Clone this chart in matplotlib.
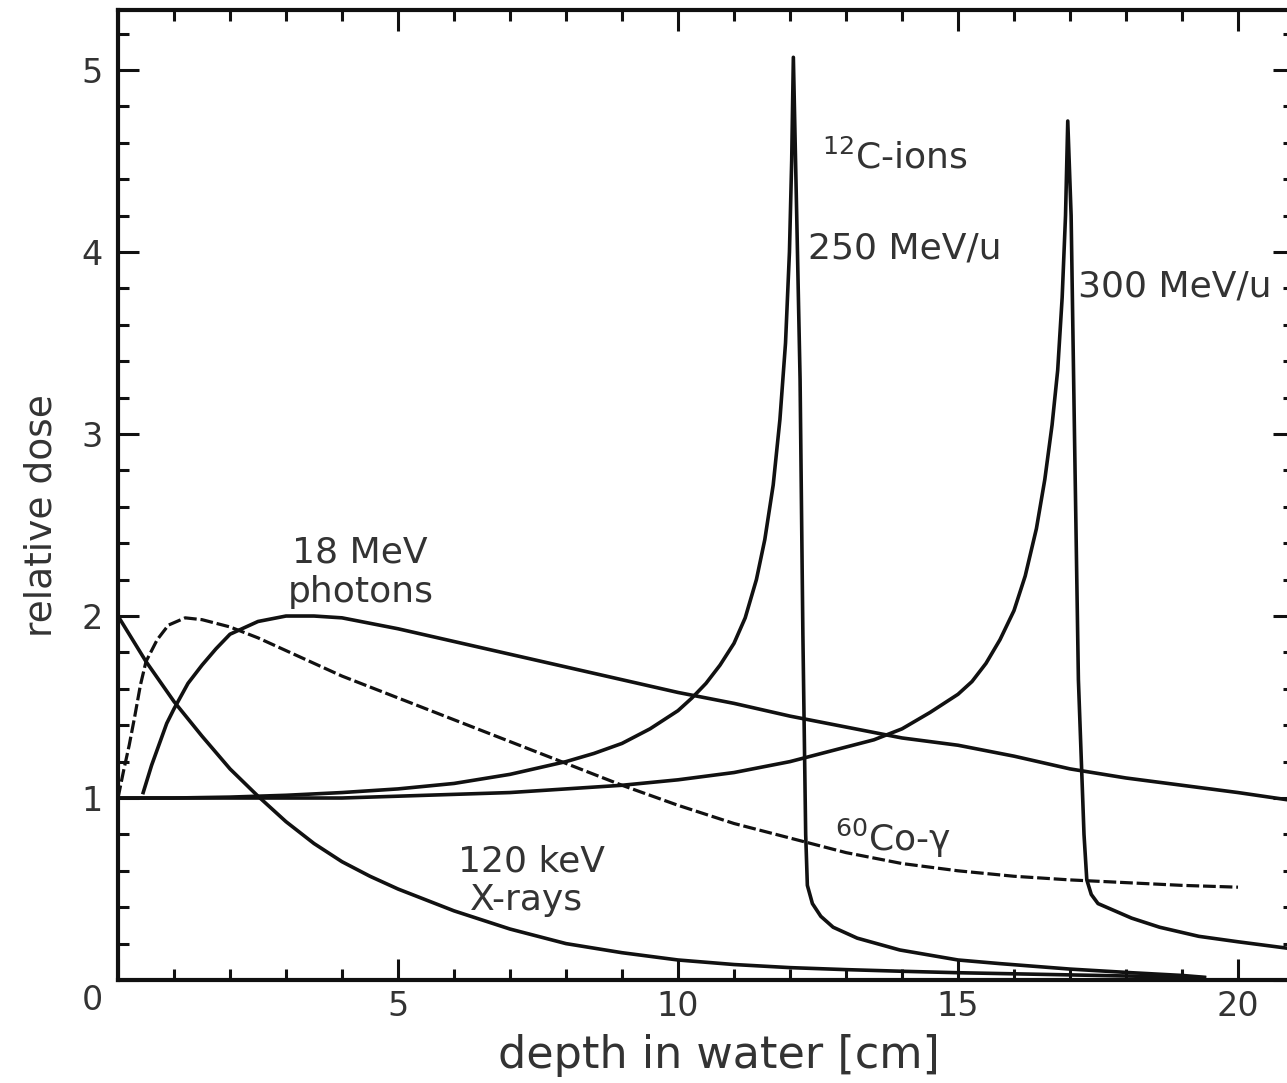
import matplotlib
matplotlib.use("Agg")
import matplotlib.pyplot as plt
from matplotlib.ticker import MultipleLocator

# depth in water [cm] vs relative dose
xray_x = [0, 0.5, 1, 1.5, 2, 2.5, 3, 3.5, 4, 4.5, 5, 5.5, 6, 6.5, 7, 7.5, 8, 9,
          10, 11, 12, 13, 14, 15, 16, 17, 18, 19, 19.4]
xray_y = [2.0, 1.75, 1.53, 1.34, 1.16, 1.01, 0.87, 0.75, 0.65, 0.57, 0.50, 0.44,
          0.38, 0.33, 0.28, 0.24, 0.20, 0.15, 0.11, 0.085, 0.068, 0.057, 0.048,
          0.04, 0.034, 0.028, 0.022, 0.016, 0.012]

co_x = [0, 0.1, 0.2, 0.3, 0.4, 0.5, 0.7, 0.9, 1.2, 1.5, 2.0, 2.5, 3, 4, 5, 6, 7,
        8, 9, 10, 11, 12, 13, 14, 15, 16, 17, 18, 19, 20]
co_y = [1.0, 1.15, 1.29, 1.45, 1.62, 1.75, 1.87, 1.95, 1.99, 1.98, 1.94, 1.88,
        1.81, 1.67, 1.55, 1.43, 1.31, 1.19, 1.07, 0.96, 0.86, 0.78, 0.70, 0.64,
        0.60, 0.57, 0.55, 0.535, 0.52, 0.51]

ph_x = [0.45, 0.6, 0.87, 1.0, 1.25, 1.5, 1.75, 2.0, 2.5, 3.0, 3.5, 4, 5, 6, 7,
        8, 9, 10, 11, 12, 13, 14, 15, 16, 17, 18, 19, 20, 21]
ph_y = [1.03, 1.18, 1.41, 1.49, 1.63, 1.73, 1.82, 1.90, 1.97, 2.0, 2.0, 1.99,
        1.93, 1.86, 1.79, 1.72, 1.65, 1.58, 1.52, 1.45, 1.39, 1.33, 1.29, 1.23,
        1.16, 1.11, 1.07, 1.03, 0.985]

c250_x = [0, 1, 2, 3, 4, 5, 6, 7, 8, 8.5, 9, 9.5, 10, 10.25, 10.5, 10.75, 11,
          11.2, 11.4, 11.55, 11.7, 11.82, 11.92, 11.99, 12.03, 12.06, 12.12,
          12.18, 12.23, 12.28, 12.31, 12.4, 12.55, 12.77, 13.2, 13.96, 15,
          15.75, 17, 18.1, 19, 19.4]
c250_y = [1.0, 1.0, 1.005, 1.015, 1.03, 1.05, 1.08, 1.13, 1.2, 1.245, 1.3, 1.38,
          1.48, 1.55, 1.63, 1.73, 1.85, 1.99, 2.2, 2.42, 2.72, 3.08, 3.5, 4.0,
          4.5, 5.07, 4.2, 3.3, 1.9, 0.8, 0.52, 0.42, 0.35, 0.29, 0.23, 0.165,
          0.11, 0.09, 0.06, 0.04, 0.025, 0.015]

c300_x = [0, 2, 4, 5, 6, 7, 8, 9, 10, 11, 12, 12.5, 13, 13.5, 14, 14.5, 15,
          15.25, 15.5, 15.75, 16, 16.2, 16.4, 16.55, 16.68, 16.78, 16.86, 16.92,
          16.96, 17.02, 17.08, 17.15, 17.25, 17.3, 17.38, 17.5, 17.8, 18.1,
          18.6, 19.3, 20, 21]
c300_y = [1.0, 1.0, 1.0, 1.01, 1.02, 1.03, 1.05, 1.07, 1.1, 1.14, 1.2, 1.24,
          1.28, 1.32, 1.38, 1.47, 1.57, 1.64, 1.74, 1.87, 2.03, 2.22, 2.48, 2.75,
          3.05, 3.35, 3.75, 4.2, 4.72, 4.2, 3.0, 1.65, 0.8, 0.55, 0.47, 0.42,
          0.38, 0.34, 0.29, 0.24, 0.21, 0.17]

FONT = "DejaVu Sans"
TEXT_COLOR = "#333333"
LINE_COLOR = "#111111"


def main() -> None:
    plt.rcParams["font.family"] = [FONT]

    fig = plt.figure(figsize=(12.87, 10.83), dpi=100)
    ax = fig.add_axes([118 / 1287, 103 / 1083, 1176 / 1287, 970 / 1083])

    lw = 2.6
    ax.plot(xray_x, xray_y, color=LINE_COLOR, lw=lw)
    ax.plot(co_x, co_y, color=LINE_COLOR, lw=2.3, linestyle=(0, (4, 1.2)))
    ax.plot(ph_x, ph_y, color=LINE_COLOR, lw=lw)
    ax.plot(c250_x, c250_y, color=LINE_COLOR, lw=lw)
    ax.plot(c300_x, c300_y, color=LINE_COLOR, lw=lw)

    ax.set_xlim(0, 21)
    ax.set_ylim(0, 5.33)

    ax.xaxis.set_minor_locator(MultipleLocator(1))
    ax.yaxis.set_minor_locator(MultipleLocator(0.2))
    ax.set_xticks([0, 5, 10, 15, 20], ["", "5", "10", "15", "20"])
    ax.set_yticks([0, 1, 2, 3, 4, 5], ["", "1", "2", "3", "4", "5"])

    ax.tick_params(which="both", direction="in", top=True, right=True,
                   color=LINE_COLOR, width=2.2, labelsize=24,
                   labelcolor=TEXT_COLOR)
    ax.tick_params(which="major", length=15)
    ax.tick_params(which="minor", length=8)
    ax.tick_params(axis="y", pad=11)
    ax.tick_params(axis="x", pad=7)

    for spine in ax.spines.values():
        spine.set_linewidth(3)
        spine.set_color(LINE_COLOR)

    # shared origin label in the corner
    ax.text(-0.46, -0.11, "0", fontsize=24, color=TEXT_COLOR,
            ha="center", va="center", clip_on=False)

    ax.set_xlabel("depth in water [cm]", fontsize=32, color=TEXT_COLOR)
    ax.xaxis.set_label_coords(0.511, -0.056)
    ax.set_ylabel("relative dose", fontsize=27, color=TEXT_COLOR)
    ax.yaxis.set_label_coords(-0.05, 0.479)

    kw = dict(fontsize=26, color=TEXT_COLOR, va="center")
    ax.text(4.32, 2.35, "18 MeV", ha="center", **kw)
    ax.text(4.34, 2.13, "photons", ha="center", **kw)
    ax.text(12.57, 4.52, r"$^{12}$C-ions", ha="left", **kw)
    ax.text(12.32, 4.02, "250 MeV/u", ha="left", **kw)
    ax.text(17.14, 3.81, "300 MeV/u", ha="left", **kw)
    ax.text(12.8, 0.78, r"$^{60}$Co-γ", ha="left", **kw)
    ax.text(7.38, 0.65, "120 keV", ha="center", **kw)
    ax.text(7.30, 0.44, "X-rays", ha="center", **kw)

    fig.savefig("out.png", dpi=100)
    plt.close(fig)


if __name__ == "__main__":
    main()
